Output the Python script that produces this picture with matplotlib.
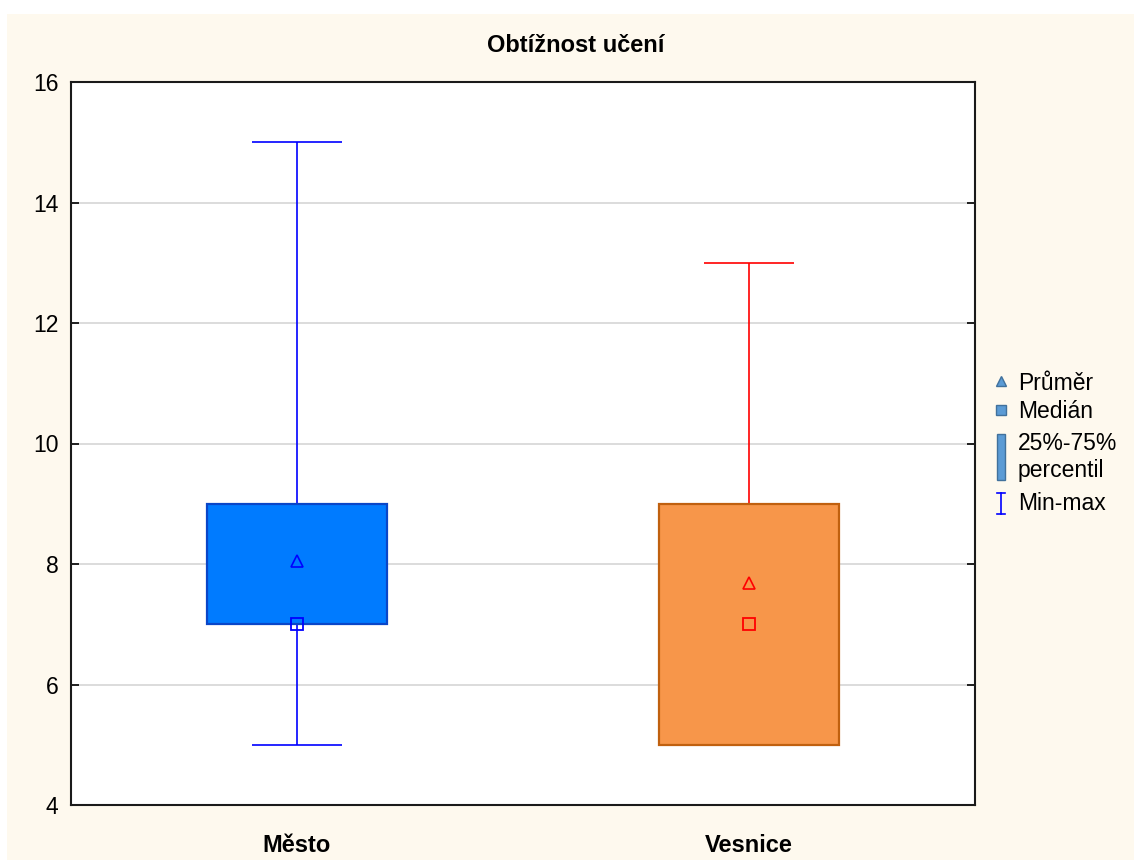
import matplotlib
matplotlib.use('Agg')
import matplotlib.pyplot as plt
from matplotlib.patches import Rectangle
from matplotlib.lines import Line2D

plt.rcParams['font.family'] = ['Liberation Sans', 'DejaVu Sans']

# data
categories = ['Město', 'Vesnice']
mins = [5, 5]
q1s = [7, 5]
medians = [7, 7]
means = [8.05, 7.68]
q3s = [9, 9]
maxs = [15, 13]

box_fill = ['#007BFF', '#F7964A']
box_edge = ['#0A46C8', '#C0600F']
line_col = ['#0000FF', '#FF0000']

fig = plt.figure(figsize=(11.34, 8.6), dpi=100)
fig.patch.set_facecolor('white')
# cream panel behind the chart
fig.patches.append(Rectangle((7 / 1134, 0), 1 - 7 / 1134, 1 - 14 / 860,
                             transform=fig.transFigure, facecolor='#FEF9EE',
                             edgecolor='none', zorder=-5))

ax = fig.add_axes([71 / 1134, 1 - 805 / 860, 904 / 1134, 723 / 860])
ax.set_facecolor('white')

pos = [1, 2]
for i, p in enumerate(pos):
    # whiskers
    ax.vlines(p, q3s[i], maxs[i], color=line_col[i], lw=1.2, zorder=2)
    ax.vlines(p, mins[i], q1s[i], color=line_col[i], lw=1.2, zorder=2)
    ax.hlines([mins[i], maxs[i]], p - 0.1, p + 0.1, color=line_col[i], lw=1.2, zorder=2)
    # box
    ax.bar(p, q3s[i] - q1s[i], bottom=q1s[i], width=0.4, color=box_fill[i],
           edgecolor=box_edge[i], linewidth=1.6, zorder=3)
    # mean and median
    ax.plot(p, means[i], marker='^', ms=8, mfc='none', mec=line_col[i], mew=1.2, zorder=4)
    ax.plot(p, medians[i], marker='s', ms=9, mfc='none', mec=line_col[i], mew=1.3, zorder=4)

ax.set_xlim(0.5, 2.5)
ax.set_ylim(4, 16)
ax.set_yticks(range(4, 17, 2))
ax.set_xticks(pos)
ax.set_xticklabels(categories, fontsize=17, fontweight='bold')
ax.tick_params(axis='x', length=0, pad=21)
ax.tick_params(axis='y', direction='in', length=6, width=1.2, right=True,
               labelsize=16.5, pad=9)
ax.yaxis.grid(True, color='#D9D9D9', lw=1.3, zorder=0)
ax.set_axisbelow(True)
for s in ax.spines.values():
    s.set_linewidth(1.5)
    s.set_color('#1A1A1A')

# title centred on the figure, not the axes
fig.text(576 / 1134, 1 - 46 / 860, 'Obtížnost učení', fontsize=17,
         fontweight='bold', ha='center', va='center')

# legend on the right
def fx(x):
    return x / 1134

def fy(y):
    return 1 - y / 860

leg_blue = '#5B9BD5'
leg_edge = '#41719C'
fig.add_artist(Line2D([fx(1001)], [fy(381)], marker='^', ms=7, mfc=leg_blue,
                      mec=leg_edge, transform=fig.transFigure))
fig.add_artist(Line2D([fx(1001)], [fy(410)], marker='s', ms=7, mfc=leg_blue,
                      mec=leg_edge, transform=fig.transFigure))
fig.add_artist(Rectangle((fx(997), fy(480)), 8 / 1134, 46 / 860,
                         transform=fig.transFigure, facecolor=leg_blue,
                         edgecolor=leg_edge, lw=1))
fig.add_artist(Line2D([fx(1001), fx(1001)], [fy(493), fy(514)], color='#0000FF',
                      lw=1.2, transform=fig.transFigure))
fig.add_artist(Line2D([fx(997), fx(1005)], [fy(493), fy(493)], color='#0000FF',
                      lw=1.2, transform=fig.transFigure))
fig.add_artist(Line2D([fx(997), fx(1005)], [fy(514), fy(514)], color='#0000FF',
                      lw=1.2, transform=fig.transFigure))

legend_items = [('Průměr', 383), ('Medián', 412), ('25%-75%', 443),
                ('percentil', 471), ('Min-max', 503)]
for txt, y in legend_items:
    fig.text(fx(1018), fy(y), txt, fontsize=16.5, va='center', ha='left')

fig.savefig('out.png', dpi=100, facecolor=fig.get_facecolor())
